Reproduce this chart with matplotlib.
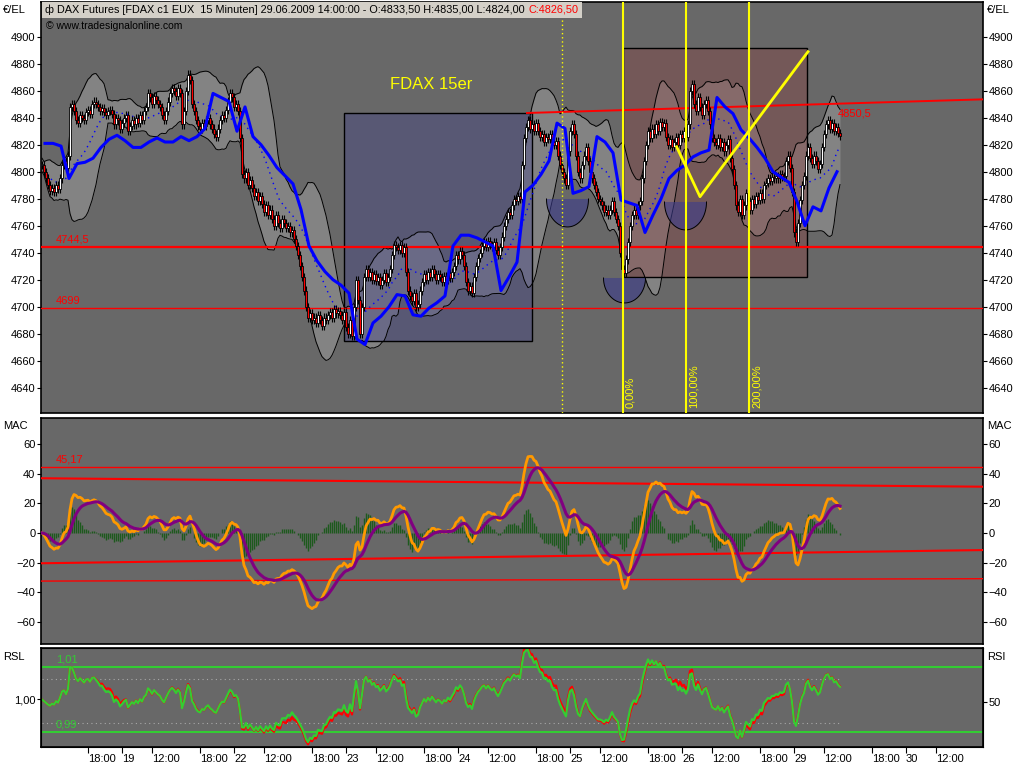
import numpy as np
import pandas as pd
import matplotlib
matplotlib.use("Agg")
import matplotlib.pyplot as plt
from matplotlib.patches import Rectangle, Polygon

plt.rcParams['font.family'] = ['Liberation Sans', 'DejaVu Sans']

# 15-Minuten Schlusskurse, je Handelstag
close_18 = [4805, 4800, 4795, 4790, 4786, 4788, 4785, 4790, 4787,
            4795, 4805, 4808, 4803, 4812, 4848,
            4850, 4845, 4838, 4836, 4842, 4840, 4838, 4844, 4846, 4843, 4850, 4852,
            4850, 4848, 4845, 4847, 4844, 4842, 4845, 4846, 4843, 4835, 4840,
            4838, 4832]
close_19 = [4836, 4840, 4842, 4830, 4834,
            4838, 4835, 4840, 4836, 4842, 4838, 4845, 4848,
            4858, 4855, 4850, 4856, 4853, 4850, 4848, 4842,
            4838, 4845, 4852, 4858, 4862, 4860, 4856, 4862, 4858, 4835,
            4845, 4860, 4872, 4868, 4850, 4845,
            4838, 4834, 4832, 4836, 4834, 4838, 4840, 4835, 4832,
            4828, 4826, 4832, 4838, 4842, 4840, 4846, 4852, 4858,
            4855]
close_22 = [4848, 4850, 4845, 4825, 4798,
            4795, 4800, 4790, 4794, 4788, 4782, 4785, 4778, 4782, 4776,
            4770, 4775, 4768, 4772, 4765, 4760, 4768, 4762, 4758, 4765,
            4762, 4758, 4760, 4755, 4757, 4750, 4745,
            4738, 4730, 4722, 4712, 4700, 4692,
            4695, 4690, 4692, 4688, 4694, 4690, 4686, 4692, 4690, 4694,
            4696, 4692, 4698, 4695, 4697, 4694, 4690, 4696]
close_23 = [4685, 4680, 4690, 4678, 4700, 4720, 4705, 4680, 4700, 4722, 4728,
            4722, 4726, 4720, 4724, 4719,
            4722, 4716, 4720, 4725, 4718, 4722, 4728,
            4738, 4746, 4744, 4742, 4746, 4740, 4744,
            4726, 4712, 4708, 4704, 4710, 4700, 4702,
            4712, 4718, 4724, 4720, 4726, 4722, 4728, 4724,
            4720, 4724, 4722, 4718, 4723, 4720, 4725, 4721, 4726, 4730,
            4738]
close_24 = [4735, 4741, 4738, 4730, 4718, 4712, 4715, 4710,
            4722, 4730, 4736, 4740, 4745, 4748, 4744, 4749, 4746,
            4744, 4748, 4742, 4738, 4744, 4752, 4760, 4765, 4770, 4768,
            4775, 4780, 4778, 4782, 4780, 4805, 4825, 4833,
            4838, 4832, 4835, 4830, 4836,
            4830, 4826, 4828, 4822, 4826, 4824, 4828, 4822,
            4820, 4823, 4812, 4805, 4800, 4795, 4790, 4815]
close_25 = [4830, 4835, 4828, 4812, 4800, 4795, 4805,
            4812, 4818, 4808, 4800, 4795, 4790, 4785, 4780, 4778,
            4775, 4770, 4772, 4768, 4772, 4778, 4770, 4765, 4760,
            4740, 4728, 4725, 4735, 4748, 4760, 4768,
            4772, 4768, 4775, 4778, 4795, 4808, 4820,
            4830, 4825, 4832, 4828, 4835, 4830, 4837, 4833, 4836,
            4826, 4820, 4824, 4818, 4822, 4826, 4820, 4828]
close_26 = [4825, 4830, 4826, 4835, 4860, 4865, 4850,
            4845, 4855, 4848, 4842, 4850, 4853, 4845,
            4835, 4825, 4822, 4820, 4825, 4818, 4822, 4815, 4820, 4824,
            4810, 4802, 4790, 4775, 4770, 4780, 4768,
            4775, 4784, 4778, 4772, 4780, 4776, 4782, 4779, 4784, 4780,
            4790, 4792, 4795, 4793, 4796, 4795, 4797, 4795, 4798, 4796, 4797,
            4808, 4812, 4803, 4785]
close_29 = [4755, 4748, 4762, 4779, 4790, 4797, 4812, 4818,
            4810, 4806, 4812, 4808, 4802, 4806, 4818, 4828,
            4835, 4838, 4832, 4836, 4830, 4833, 4829, 4826.5]

# blaue Linie (Stundenbasis, je 4 Kerzen ein Wert)
blue_hourly = [4821, 4821, 4819, 4795, 4806, 4807, 4810, 4818, 4824, 4827,
               4823, 4818, 4818, 4822, 4825, 4822, 4822, 4826, 4823, 4826,
               4832, 4858, 4855, 4852, 4830, 4848, 4826, 4820, 4812, 4803,
               4797, 4791, 4772, 4745, 4734, 4726, 4720, 4716, 4710, 4676,
               4672, 4688, 4693, 4700, 4709, 4708, 4694, 4693, 4699, 4703,
               4708, 4745, 4753, 4753, 4751, 4748, 4745, 4712, 4722, 4733,
               4785, 4790, 4798, 4808, 4836, 4832, 4784, 4786, 4789, 4826,
               4822, 4814, 4779, 4777, 4775, 4755, 4768, 4780, 4795, 4801,
               4805, 4811, 4814, 4816, 4855, 4848, 4843, 4831, 4825, 4818,
               4810, 4800, 4796, 4792, 4778, 4760, 4774, 4771, 4788, 4800]

day_labels = ['19', '22', '23', '24', '25', '26', '29', '30']
day_start = [40, 96, 152, 208, 264, 320, 376, 432]

level_lines = [4744.5, 4699]
trend_price = [(242.5, 4843.5), (470.5, 4853.6)]
mac_lines = [(44.3, 44.3), (36.9, 31.2), (-20.4, -11.5), (-32.4, -30.8)]
fibo_bars = [290.5, 322, 353.5]
fibo_labels = ['0,00%', '100,00%', '200,00%']
zigzag_bar = [317.3, 329, 383]
zigzag_px = [4818.5, 4781.5, 4888.9]
half_circles = [(262.75, 4779.8, 20.7), (321.75, 4777.6, 20.7), (291.25, 4721.3, 18.5)]

closes = np.array(close_18 + close_19 + close_22 + close_23 + close_24 +
                  close_25 + close_26 + close_29, dtype=float)
n = len(closes)
idx = np.arange(n)
opens = np.r_[closes[0], closes[:-1]]
s = pd.Series(closes)

# Indikatoren
mid = s.rolling(20, min_periods=1).mean()
sd = s.rolling(20, min_periods=2).std(ddof=0).bfill()
upper, lower = mid + 2 * sd, mid - 2 * sd
macd = s.ewm(span=5, adjust=False).mean() - s.ewm(span=32, adjust=False).mean()
signal = macd.ewm(span=9, adjust=False).mean()
hist = macd - signal
rsl_red = s / s.rolling(30, min_periods=1).mean()
rsl_green = s / s.rolling(27, min_periods=1).mean()

BG = '#686868'
W, H = 1024, 768
fig = plt.figure(figsize=(W / 100, H / 100), dpi=100, facecolor='white')


def px_axes(l, t, r, b):
    a = fig.add_axes([l / W, 1 - b / H, (r - l) / W, (b - t) / H])
    a.set_facecolor(BG)
    for sp in a.spines.values():
        sp.set_color('black')
        sp.set_linewidth(1.2)
    a.tick_params(axis='y', labelsize=8, length=3, width=0.8, left=True, right=True,
                  labelleft=True, labelright=True, pad=1)
    return a


ax1 = px_axes(41, 2, 983, 413)
ax2 = px_axes(41, 418, 983, 644)
ax3 = px_axes(41, 648, 983, 747)
xlim = (-0.5, 470.5)
for a in (ax1, ax2, ax3):
    a.set_xlim(*xlim)
for a in (ax1, ax2):
    a.tick_params(axis='x', bottom=False, labelbottom=False)

# ---- Kurs-Panel ----
ax1.set_ylim(4621.3, 4925.7)
ax1.set_yticks(np.arange(4640, 4901, 20))
ax1.fill_between(idx, lower, upper, color='#838383', zorder=1, lw=0)
for x0, y0, w, h, fc in [(151, 4674.6, 94, 4843.5 - 4674.6, '#3c3c8c'),
                         (290.5, 4722.0, 92, 4891.6 - 4722.0, '#8c3c3c')]:
    ax1.add_patch(Rectangle((x0, y0), w, h, fc=fc, alpha=0.35, ec='none', zorder=2))
    ax1.add_patch(Rectangle((x0, y0), w, h, fc='none', ec='black', lw=1, zorder=2.1))
ax1.plot(idx, upper, color='black', lw=0.7, zorder=2.5)
ax1.plot(idx, lower, color='black', lw=0.7, zorder=2.5)
ax1.plot(idx, mid, color='#0000ff', lw=1, ls=(0, (1, 3)), zorder=2.6)

t = np.linspace(np.pi, 2 * np.pi, 60)
for cx, cy, ry in half_circles:
    pts = np.column_stack([cx + 10.5 * np.cos(t), cy + ry * np.sin(t)])
    ax1.add_patch(Polygon(pts, closed=True, fc='#3c3c8c', alpha=0.6, ec='none', zorder=2.7))
    ax1.plot(pts[:, 0], pts[:, 1], color='black', lw=0.7, zorder=2.8)

for lv, lw in zip(level_lines, [1.6, 1.0]):
    ax1.axhline(lv, color='#ff0000', lw=lw, zorder=3)
    ax1.text(7, lv + 1.5, f'{lv:g}'.replace('.', ','), color='#ff0000', fontsize=8,
             va='bottom', zorder=6)
(tx0, ty0), (tx1, ty1) = trend_price
ax1.plot([tx0, tx1], [ty0, ty1], color='#ff0000', lw=1.4, zorder=3)
ax1.text(398, 4846.5, '4850,5', color='#ff0000', fontsize=8, va='top', zorder=6)

# Kerzen
up = closes >= opens
lo_b = np.minimum(opens, closes)
hi_b = np.maximum(opens, closes)
ax1.vlines(idx, lo_b - 3, hi_b + 3, color='black', lw=0.8, zorder=4)
ax1.bar(idx, np.maximum(hi_b - lo_b, 0.6), bottom=lo_b, width=1.0,
        color=np.where(up, '#ffffff', '#ff0000'), edgecolor='black', lw=0.6, zorder=4.1)

# blaue Linie
hx = np.arange(len(blue_hourly)) * 4 + 1.5
ax1.plot(hx, blue_hourly, color='#0000ff', lw=2.2, zorder=5)

# Fibo-Zeitlinien & Markierungen
ax1.axvline(260, color='yellow', lw=1, ls=(0, (1, 2)), zorder=5)
for b, lab in zip(fibo_bars, fibo_labels):
    ax1.axvline(b, color='yellow', lw=1.5, zorder=5)
    ax1.text(b + 1.3, 4625, lab, color='yellow', fontsize=8, rotation=90,
             va='bottom', ha='left', zorder=6)
ax1.plot(zigzag_bar, zigzag_px, color='yellow', lw=2, zorder=5)
ax1.text(194.5, 4864.3, 'FDAX 15er', color='yellow', fontsize=12, ha='center',
         va='center', zorder=6)

hdr = dict(boxstyle='square,pad=0.25', fc='#d4d0c8', ec='none')
t1 = ax1.text(45 / W, 1 - 10 / H,
              '\u0444 DAX Futures [FDAX c1 EUX  15 Minuten] 29.06.2009 14:00:00 - '
              'O:4833,50 H:4835,00 L:4824,00', fontsize=7.8, va='center', ha='left',
              transform=fig.transFigure, bbox=hdr, zorder=10)
ax1.annotate('C:4826,50', xy=(1, 0.5), xycoords=t1, xytext=(3, 0),
             textcoords='offset points', va='center', ha='left',
             color='#ff0000', fontsize=7.8, bbox=hdr, zorder=11)
fig.text(46 / W, 1 - 26 / H, '\u00a9 www.tradesignalonline.com', fontsize=7.5,
         va='center', ha='left', color='black')

# ---- MAC-Panel ----
ax2.set_ylim(-74.8, 77.5)
ax2.set_yticks(np.arange(-60, 61, 20))
ax2.vlines(idx, 0, hist, color='#1d5a1d', lw=1.0, zorder=2)
for (y0, y1), lw in zip(mac_lines, [1.0, 1.5, 1.5, 1.0]):
    ax2.plot(xlim, [y0, y1], color='#ff0000', lw=lw, zorder=3)
ax2.text(7, 46.5, '45,17', color='#ff0000', fontsize=8, va='bottom', zorder=6)
ax2.plot(idx, macd, color='#ff9900', lw=2, zorder=4)
ax2.plot(idx, signal, color='#800080', lw=2.2, zorder=5)

# ---- RSL-Panel ----
ax3.set_ylim(0.98538, 1.01585)
ax3.set_yticks([1.0])
ax3.set_yticklabels(['1,00'])
ax3.tick_params(axis='y', labelright=False, right=False)
for lv, lab in [(1.01, '1,01'), (0.99, '0,99')]:
    ax3.axhline(lv, color='#33cc33', lw=1.5, zorder=2)
    ax3.text(7, lv + 0.0008, lab, color='#33cc33', fontsize=8, va='bottom', zorder=6)
for lv in (1.0063, 0.9928):
    ax3.plot([0, n - 1], [lv, lv], color='#a8a8a8', lw=0.8, ls=(0, (1, 3)), zorder=2)
ax3.plot(idx, rsl_red, color='#ff0000', lw=1.6, zorder=3)
ax3.plot(idx, rsl_green, color='#33cc33', lw=1.6, zorder=4)
ax3r = ax3.twinx()
ax3r.set_ylim(5, 104)
ax3r.set_yticks([50])
ax3r.tick_params(axis='y', labelsize=8, length=3, width=0.8, pad=1)

# Zeitachse
ticks, labels = [], []
for ds, dl in zip(day_start, day_labels):
    ticks += [ds - 17, ds, ds + 15]
    labels += ['18:00', dl, '12:00']
ax3.set_xticks(ticks)
ax3.set_xticklabels(labels, ha='left')
ax3.tick_params(axis='x', labelsize=8, length=4, width=0.8, pad=1)

fig.text(3 / W, 1 - 10 / H, '\u20ac/EL', fontsize=8, va='center')
fig.text(987 / W, 1 - 10 / H, '\u20ac/EL', fontsize=8, va='center')
fig.text(3 / W, 1 - 426 / H, 'MAC', fontsize=8, va='center')
fig.text(987 / W, 1 - 426 / H, 'MAC', fontsize=8, va='center')
fig.text(3 / W, 1 - 657 / H, 'RSL', fontsize=8, va='center')
fig.text(987 / W, 1 - 657 / H, 'RSI', fontsize=8, va='center')

fig.savefig('out.png', dpi=100, facecolor='white')
